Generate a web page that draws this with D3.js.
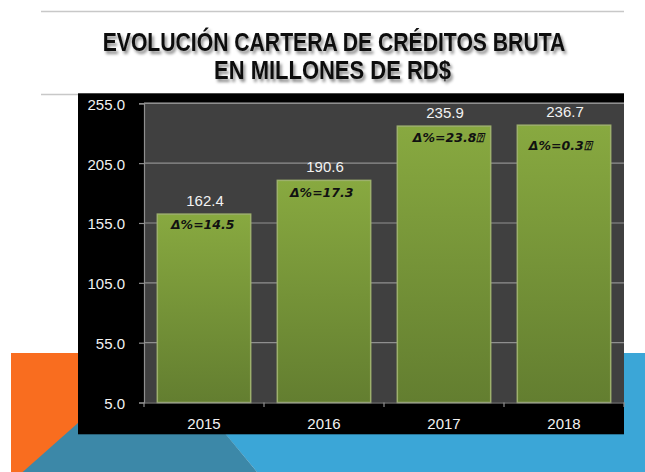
<!DOCTYPE html>
<html>
<head>
<meta charset="utf-8">
<script src="https://cdn.jsdelivr.net/npm/d3@7"></script>
<style>
  html, body { margin: 0; padding: 0; background: #fff; }
  svg { display: block; }
</style>
</head>
<body>
<div id="chart"></div>
<script>
// data
var years = ["2015", "2016", "2017", "2018"]
var cartera = [162.4, 190.6, 235.9, 236.7]
var deltas = ["Δ%=14.5", "Δ%=17.3", "Δ%=23.8\u2370", "Δ%=0.3\u2370"]
var yTicks = [5, 55, 105, 155, 205, 255]
var titleLines = ["EVOLUCIÓN CARTERA DE CRÉDITOS BRUTA", "EN MILLONES DE RD$"]

var W = 645, H = 472

var svg = d3.select("#chart").append("svg")
  .attr("width", W)
  .attr("height", H)

var defs = svg.append("defs")

var grad = defs.append("linearGradient")
  .attr("id", "barGrad")
  .attr("x1", 0).attr("y1", 0).attr("x2", 0).attr("y2", 1)
grad.append("stop").attr("offset", "0%").attr("stop-color", "#88a940")
grad.append("stop").attr("offset", "100%").attr("stop-color", "#637e30")

var shadow = defs.append("filter")
  .attr("id", "titleShadow")
  .attr("x", "-10%").attr("y", "-30%").attr("width", "120%").attr("height", "170%")
shadow.append("feDropShadow")
  .attr("dx", 2).attr("dy", 3)
  .attr("stdDeviation", 1.8)
  .attr("flood-color", "#000")
  .attr("flood-opacity", 0.45)

// slide decoration
svg.append("line")
  .attr("x1", 41).attr("x2", 624).attr("y1", 11.5).attr("y2", 11.5)
  .attr("stroke", "#c8c8c8").attr("stroke-width", 1.5)
svg.append("line")
  .attr("x1", 41).attr("x2", 624).attr("y1", 94.5).attr("y2", 94.5)
  .attr("stroke", "#c8c8c8").attr("stroke-width", 1.5)

svg.append("rect")
  .attr("x", 11).attr("y", 353).attr("width", 160).attr("height", H - 353)
  .attr("fill", "#f96d1f")
svg.append("polygon")
  .attr("points", "158,353 645,353 645,472 257,472")
  .attr("fill", "#3ba6d7")
svg.append("polygon")
  .attr("points", "22.7,472 158,352 257,472")
  .attr("fill", "#3c88a8")

// title: bold sans squeezed horizontally to look condensed
var titleBox = [
  { x: 102.7, y: 51, w: 463 },
  { x: 214, y: 79.3, w: 237 }
]
var title = svg.append("g")
  .attr("filter", "url(#titleShadow)")
  .attr("font-family", "'Liberation Sans', Arial, sans-serif")
  .attr("font-weight", "bold")
  .attr("font-size", 26)
  .attr("fill", "#111")
title.selectAll("text")
  .data(titleLines)
  .join("text")
  .text(d => d)
  .each(function (d, i) {
    var b = titleBox[i]
    var sx = b.w / this.getComputedTextLength()
    d3.select(this).attr("transform", `translate(${b.x},${b.y}) scale(${sx},1)`)
  })

// chart box
svg.append("rect")
  .attr("x", 78).attr("y", 93.3).attr("width", 546).attr("height", 341)
  .attr("fill", "#000")

var plotL = 144, plotR = 624, plotT = 102, plotB = 402.5

var x = d3.scaleBand()
  .domain(years)
  .range([plotL, plotR])
  .paddingInner(0.222)
  .paddingOuter(0.111)

var y = d3.scaleLinear()
  .domain([5, 255])
  .range([plotB, 103.3])

svg.append("rect")
  .attr("x", plotL).attr("y", plotT)
  .attr("width", plotR - plotL).attr("height", plotB - plotT)
  .attr("fill", "#404040")

// gridlines
svg.append("g")
  .selectAll("line")
  .data(yTicks.slice(1))
  .join("line")
  .attr("x1", plotL).attr("x2", plotR)
  .attr("y1", d => y(d)).attr("y2", d => y(d))
  .attr("stroke", "#8f8f8f").attr("stroke-width", 1.2)

// y axis
var yAxis = svg.append("g")
  .attr("transform", `translate(${plotL},0)`)
  .call(d3.axisLeft(y)
    .tickValues(yTicks)
    .tickFormat(d3.format(".1f"))
    .tickSize(5)
    .tickPadding(14))
yAxis.select(".domain").attr("stroke", "#8f8f8f").attr("stroke-width", 1.2)
yAxis.selectAll(".tick line").attr("stroke", "#8f8f8f").attr("stroke-width", 1.2)
yAxis.selectAll(".tick text")
  .attr("fill", "#f2f2f2")
  .attr("font-family", "'Liberation Sans', Arial, sans-serif")
  .attr("font-size", 15)
  .attr("dy", "0.4em")

// bars
svg.append("g")
  .selectAll("rect")
  .data(years)
  .join("rect")
  .attr("x", d => x(d))
  .attr("y", (d, i) => y(cartera[i]))
  .attr("width", x.bandwidth())
  .attr("height", (d, i) => plotB - y(cartera[i]))
  .attr("fill", "url(#barGrad)")
  .attr("stroke", "#9db06c")
  .attr("stroke-width", 1.5)

// x axis
var xAxis = svg.append("g")
  .attr("transform", `translate(0,${plotB})`)
  .call(d3.axisBottom(x).tickSize(0).tickPadding(16))
xAxis.select(".domain").attr("stroke", "#8f8f8f").attr("stroke-width", 1.2)
xAxis.selectAll(".tick text")
  .attr("fill", "#f2f2f2")
  .attr("font-family", "'Liberation Sans', Arial, sans-serif")
  .attr("font-size", 15)

// category boundary ticks
var gap = (x.step() - x.bandwidth()) / 2
var bounds = years.map(d => x(d) - gap).concat([x(years[years.length - 1]) + x.bandwidth() + gap])
xAxis.selectAll("line.bound")
  .data(bounds)
  .join("line")
  .attr("class", "bound")
  .attr("x1", d => d).attr("x2", d => d)
  .attr("y1", 0).attr("y2", 4.5)
  .attr("stroke", "#8f8f8f").attr("stroke-width", 1.2)

// value labels
svg.append("g")
  .selectAll("text")
  .data(years)
  .join("text")
  .attr("x", d => x(d) + x.bandwidth() / 2 + 1)
  .attr("y", (d, i) => y(cartera[i]) - 8)
  .attr("text-anchor", "middle")
  .attr("fill", "#f2f2f2")
  .attr("font-family", "'Liberation Sans', Arial, sans-serif")
  .attr("font-size", 15)
  .text((d, i) => d3.format(".1f")(cartera[i]))

// growth labels, placed by hand on the slide
var nudge = [[-1.3, 14.5], [-2.3, 16.8], [4.6, 16], [-3.8, 24.5]]
svg.append("g")
  .selectAll("text")
  .data(years)
  .join("text")
  .attr("x", (d, i) => x(d) + x.bandwidth() / 2 + nudge[i][0])
  .attr("y", (d, i) => y(cartera[i]) + nudge[i][1])
  .attr("text-anchor", "middle")
  .attr("fill", "#111")
  .attr("font-family", "'DejaVu Sans', sans-serif")
  .attr("font-weight", "bold")
  .attr("font-style", "italic")
  .attr("font-size", 12.5)
  .text((d, i) => deltas[i])
</script>
</body>
</html>
